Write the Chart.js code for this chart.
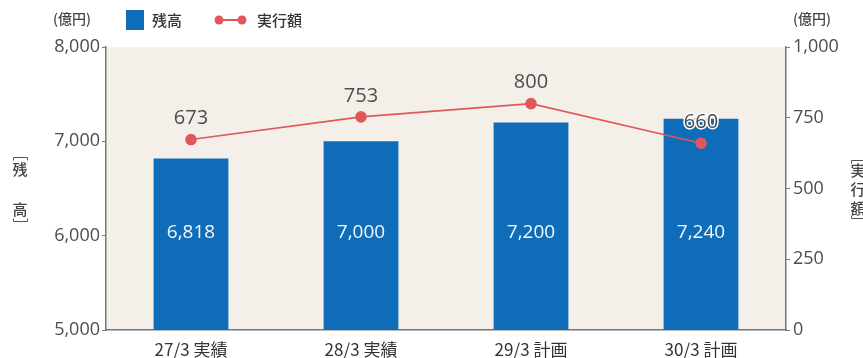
<!DOCTYPE html>
<html lang="ja">
<head>
<meta charset="utf-8">
<script src="https://cdn.jsdelivr.net/npm/chart.js@4.4.1/dist/chart.umd.min.js"></script>
<style>
  html, body { margin: 0; padding: 0; background: #fff; }
  canvas { display: block; }
</style>
</head>
<body>
<canvas id="mycanvas" width="863" height="358"></canvas>
<script>
// 残高 (left axis) and 実行額 (right axis), 億円
var periods = ['27/3 実績', '28/3 実績', '29/3 計画', '30/3 計画'];
var zandaka = [6818, 7000, 7200, 7240];
var jikkou = [673, 753, 800, 660];
var leftTicks = [5000, 6000, 7000, 8000];
var rightTicks = [0, 250, 500, 750, 1000];

var BLUE = '#0f6cb9';
var RED = '#e0585a';
var NUM_FONT = '"Open Sans", "Noto Sans", sans-serif';
var JP_FONT = '"Noto Sans CJK JP", "Noto Sans", sans-serif';

function fmt(v) {
  return v.toLocaleString('en-US');
}

// beige plot background, legend, units, axis titles
var decor = {
  id: 'decor',
  beforeDraw: function(chart) {
    var ctx = chart.ctx, a = chart.chartArea;
    ctx.save();
    ctx.fillStyle = '#f4f0e9';
    ctx.fillRect(a.left, a.top, a.right - a.left, a.bottom - a.top);
    ctx.restore();
  },
  afterDraw: function(chart) {
    var ctx = chart.ctx;
    ctx.save();
    ctx.fillStyle = '#444';
    ctx.textBaseline = 'middle';
    ctx.font = '500 14px ' + JP_FONT;
    ctx.textAlign = 'left';
    ctx.fillText('(億円)', 53, 19);
    ctx.fillText('(億円)', 793, 19);

    // legend
    var ds = chart.data.datasets;
    ctx.fillStyle = ds[0].backgroundColor;
    ctx.fillRect(126, 10, 18, 20);
    ctx.fillStyle = '#333';
    ctx.font = '500 15px ' + JP_FONT;
    ctx.fillText(ds[0].label, 152, 20);
    ctx.strokeStyle = ds[1].borderColor;
    ctx.lineWidth = 2;
    ctx.beginPath();
    ctx.moveTo(219, 20);
    ctx.lineTo(242, 20);
    ctx.stroke();
    ctx.fillStyle = ds[1].pointBackgroundColor;
    [219, 242].forEach(function(x) {
      ctx.beginPath();
      ctx.arc(x, 20, 4.5, 0, Math.PI * 2);
      ctx.fill();
    });
    ctx.fillStyle = '#333';
    ctx.fillText(ds[1].label, 257, 20);

    // vertical axis titles
    ctx.font = '500 15px ' + JP_FONT;
    ctx.textAlign = 'center';
    ctx.fillStyle = '#444';
    ctx.fillText('残', 20, 169);
    ctx.fillText('高', 20, 209);
    ctx.fillText('実', 858, 170);
    ctx.fillText('行', 858, 189);
    ctx.fillText('額', 858, 208);
    ctx.strokeStyle = '#555';
    ctx.lineWidth = 1;
    function bracket(x1, x2, y, dir) {
      ctx.beginPath();
      ctx.moveTo(x1, y + 3 * dir);
      ctx.lineTo(x1, y);
      ctx.lineTo(x2, y);
      ctx.lineTo(x2, y + 3 * dir);
      ctx.stroke();
    }
    bracket(13.5, 27.5, 157.5, 1);
    bracket(13.5, 27.5, 221.5, -1);
    bracket(851.5, 866, 160.5, 1);
    bracket(851.5, 866, 218.5, -1);
    ctx.restore();
  },
  afterDatasetsDraw: function(chart) {
    var ctx = chart.ctx;
    var bars = chart.getDatasetMeta(0).data;
    var points = chart.getDatasetMeta(1).data;
    var yLeft = chart.scales.y;
    ctx.save();
    ctx.textAlign = 'center';
    ctx.textBaseline = 'middle';
    ctx.font = '19px ' + NUM_FONT;
    ctx.fillStyle = '#f2f7fc';
    bars.forEach(function(b, i) {
      ctx.fillText(fmt(zandaka[i]), b.x, yLeft.getPixelForValue(6030));
    });
    ctx.font = '20px ' + NUM_FONT;
    ctx.lineJoin = 'round';
    points.forEach(function(p, i) {
      var ly = p.y - 21;
      var bar = bars[i];
      if (ly + 8 > bar.y) {
        ctx.strokeStyle = '#fff';
        ctx.lineWidth = 3;
        ctx.strokeText(fmt(jikkou[i]), p.x, ly);
      }
      ctx.fillStyle = '#4d4d4d';
      ctx.fillText(fmt(jikkou[i]), p.x, ly);
    });
    ctx.restore();
  }
};

var chartdata = {
  labels: periods,
  datasets: [
    {
      type: 'bar',
      label: '残高',
      data: zandaka,
      backgroundColor: BLUE,
      yAxisID: 'y',
      barPercentage: 0.44,
      categoryPercentage: 1,
      order: 1
    },
    {
      type: 'line',
      label: '実行額',
      data: jikkou,
      borderColor: RED,
      borderWidth: 1.6,
      pointBackgroundColor: RED,
      pointBorderColor: RED,
      pointRadius: 5,
      yAxisID: 'y1',
      order: 0
    }
  ]
};

var ctx = document.getElementById('mycanvas');

var barGraph = new Chart(ctx, {
  data: chartdata,
  plugins: [decor],
  options: {
    responsive: false,
    animation: false,
    layout: { padding: { top: 47, left: 0, right: 0, bottom: 0 } },
    plugins: {
      legend: { display: false },
      tooltip: { enabled: false }
    },
    scales: {
      x: {
        grid: { display: false },
        border: { display: true, color: '#777', width: 1.5 },
        ticks: {
          color: '#333',
          font: { family: JP_FONT, size: 17 },
          padding: 1
        },
        afterFit: function(s) { s.height = 28; }
      },
      y: {
        position: 'left',
        min: 5000,
        max: 8000,
        afterBuildTicks: function(s) {
          s.ticks = leftTicks.map(function(v) { return { value: v }; });
        },
        grid: { drawOnChartArea: false, tickLength: 4, color: '#777' },
        border: { color: '#777', width: 1.5 },
        ticks: {
          color: '#4d4d4d',
          font: { family: NUM_FONT, size: 18 },
          padding: 2,
          callback: function(v) { return fmt(v); }
        },
        afterFit: function(s) { s.width = 106; }
      },
      y1: {
        position: 'right',
        min: 0,
        max: 1000,
        afterBuildTicks: function(s) {
          s.ticks = rightTicks.map(function(v) { return { value: v }; });
        },
        grid: { drawOnChartArea: false, tickLength: 4, color: '#777' },
        border: { color: '#777', width: 1.5 },
        ticks: {
          color: '#4d4d4d',
          font: { family: NUM_FONT, size: 18 },
          padding: 3,
          callback: function(v) { return fmt(v); }
        },
        afterFit: function(s) { s.width = 77; }
      }
    }
  }
});
</script>
</body>
</html>
